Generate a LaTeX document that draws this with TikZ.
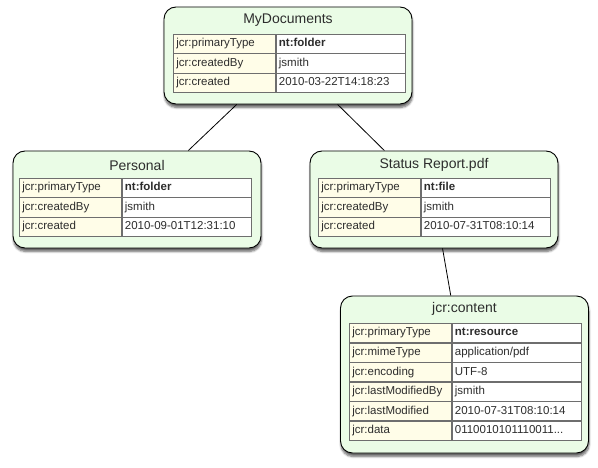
\documentclass[tikz,border=0pt]{standalone}
\usepackage{fontspec}
\setmainfont{Liberation Sans}
\usetikzlibrary{shadows.blur}
\definecolor{nodegreen}{RGB}{234,252,230}
\definecolor{keyyellow}{RGB}{255,253,232}
\definecolor{gridgray}{RGB}{110,110,110}
\definecolor{celltext}{RGB}{45,45,45}
\begin{document}
\begin{tikzpicture}[x=1pt,y=-1pt]
  \tikzset{
    jcr box/.style={draw=black, line width=0.9pt, fill=nodegreen, rounded corners=12pt,
      minimum width=248pt, minimum height=97pt, inner sep=0pt,
      blur shadow={shadow xshift=0.5pt, shadow yshift=-3.5pt, shadow blur steps=6,
        shadow opacity=60}},
    jcr title/.style={font=\fontsize{14}{16}\selectfont, text=celltext, inner sep=0pt},
    prop cell/.style={draw=gridgray, line width=0.6pt, anchor=north west, inner xsep=3pt,
      inner ysep=0pt, text height=8.5pt, text depth=2.5pt, minimum height=19.4pt,
      font=\fontsize{11.5}{13}\selectfont, text=celltext, align=left},
    key cell/.style={prop cell, fill=keyyellow, text width=96pt},
    value cell/.style={prop cell, fill=white, text width=123pt}}
  \useasboundingbox (0,0) rectangle (598,468);
  % nodes
  \node[jcr box] (mydocs) at (288,55.5) {};
  \node[jcr box] (personal) at (137,199.5) {};
  \node[jcr box] (status) at (434,199.5) {};
  \node[jcr box, minimum height=157pt] (content) at (464.5,374.5) {};
  % titles
  \node[jcr title] (mydocs-title) at (288,20) {MyDocuments};
  \node[jcr title] (personal-title) at (137,165) {Personal};
  \node[jcr title] (status-title) at (434,165) {Status Report.pdf};
  \node[jcr title] (content-title) at (464.5,309) {jcr:content};
  % property tables
  \foreach \k/\v [count=\i] in {jcr:primaryType/\textbf{nt:folder}, jcr:createdBy/jsmith,
      jcr:created/2010-03-22T14:18:23} {
    \node[key cell] (mydocs-k\i) at (173,{34+19.4*(\i-1)}) {\k};
    \node[value cell] (mydocs-v\i) at (mydocs-k\i.north east) {\v};
  }
  \foreach \k/\v [count=\i] in {jcr:primaryType/\textbf{nt:folder}, jcr:createdBy/jsmith,
      jcr:created/2010-09-01T12:31:10} {
    \node[key cell] (personal-k\i) at (19,{178+19.4*(\i-1)}) {\k};
    \node[value cell] (personal-v\i) at (personal-k\i.north east) {\v};
  }
  \foreach \k/\v [count=\i] in {jcr:primaryType/\textbf{nt:file}, jcr:createdBy/jsmith,
      jcr:created/2010-07-31T08:10:14} {
    \node[key cell] (status-k\i) at (318,{178+19.4*(\i-1)}) {\k};
    \node[value cell] (status-v\i) at (status-k\i.north east) {\v};
  }
  \foreach \k/\v [count=\i] in {jcr:primaryType/\textbf{nt:resource}, jcr:mimeType/{application/pdf},
      jcr:encoding/UTF-8, jcr:lastModifiedBy/jsmith, jcr:lastModified/2010-07-31T08:10:14,
      jcr:data/{0110010101110011...}} {
    \node[key cell] (content-k\i) at (349,{323+19.5*(\i-1)}) {\k};
    \node[value cell] (content-v\i) at (content-k\i.north east) {\v};
  }
  % edges
  \draw[line width=0.8pt] (mydocs) -- (personal);
  \draw[line width=0.8pt] (mydocs) -- (status);
  \draw[line width=0.8pt] (status) -- (content);
\end{tikzpicture}
\end{document}
